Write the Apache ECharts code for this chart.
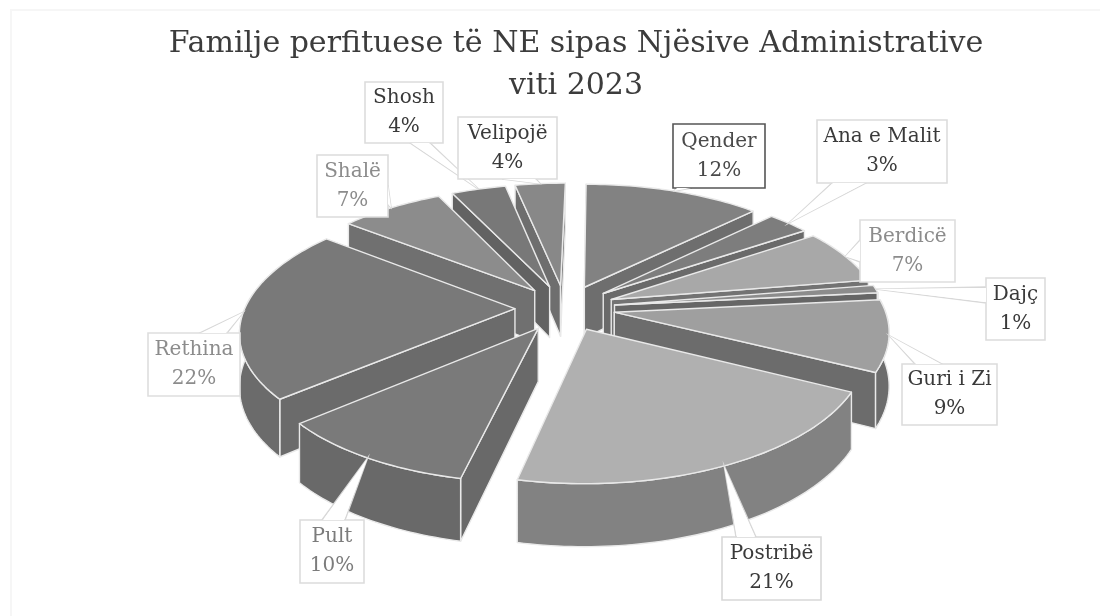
<!DOCTYPE html>
<html><head><meta charset="utf-8">
<style>html,body{margin:0;padding:0;background:#fff}#c{width:1114px;height:616px}</style>
<script src="https://cdn.jsdelivr.net/npm/echarts@6/dist/echarts.min.js"></script>
</head><body><div id="c"></div>
<script>
const titleLines = ['Familje perfituese të NE sipas Njësive Administrative', 'viti 2023'];
const names = ['Qender','Ana e Malit','Berdicë','Dajç','Guri i Zi','Postribë','Pult','Rethina','Shalë','Shosh','Velipojë'];
const values = [12.4,3,7,1,9,20.9,10.3,21.9,7.2,3.8,3.5];

const topColors  = ['#828282','#7d7d7d','#a8a8a8','#8c8c8c','#9f9f9f','#b0b0b0','#7a7a7a','#797979','#8c8c8c','#787878','#888888'];
const wallColors = ['#6e6e6e','#6a6a6a','#737373','#666666','#6c6c6c','#828282','#696969','#6b6b6b','#707070','#626262','#6e6e6e'];
const textColors = ['#4a4a4a','#3a3a3a','#8c8c8c','#3a3a3a','#3a3a3a','#3a3a3a','#7c7c7c','#8c8c8c','#8c8c8c','#3a3a3a','#3a3a3a'];
const boxBorders = ['#555555','#dcdcdc','#dedede','#dcdcdc','#dcdcdc','#d8d8d8','#dcdcdc','#dedede','#dcdcdc','#dcdcdc','#dcdcdc'];
// label boxes: left, top, right, bottom (layout only)
const labelBoxes = [[673,124,765,188],[817,120,947,183],[860,220,955,282],[986,278,1045,340],[902,364,997,425],
  [722,537,821,600],[300,520,364,583],[148,333,240,396],[317,155,388,217],[365,82,443,143],[458,117,557,179]];
// edge of the box the callout leaves from, as two points along that edge
const calloutBases = [[[676,188],[692,188]],[[832,183],[866,183]],[[860,240],[860,262]],[[986,287],[986,303]],[[915,364],[942,364]],
  [[736,537],[756,537]],[[322,520],[345,520]],[[200,333],[227,333]],[[388,185],[388,205]],[[410,143],[430,143]],[[502,179],[536,179]]];

const geo = {cx:565, cy:308, R:270, squash:0.46, persp:0.15, explode:50, depth:52, shear:0.04};
const total = values.reduce((a,b)=>a+b,0);
const starts = []; values.reduce((acc,v,i)=>{starts[i]=acc;return acc+v;},0);
const rad = v => v/total*Math.PI*2;

function proj(x,y,z){ const k = 1/(1+geo.persp*y/geo.R), sy = y*geo.squash*k;
  return [geo.cx + x*k + geo.shear*sy, geo.cy - sy + z*k]; }
function wedge(i){ const a0=rad(starts[i]), a1=rad(starts[i]+values[i]), m=(a0+a1)/2;
  return {a0,a1,m,ex:geo.explode*Math.sin(m),ey:geo.explode*Math.cos(m)}; }
function rimPt(w,a,z){ return proj(w.ex+geo.R*Math.sin(a), w.ey+geo.R*Math.cos(a), z); }

function renderSlice(params, api){
  const i = api.value(1), w = wedge(i), n = Math.max(6,Math.ceil(values[i]*3));
  const line = {stroke:'#e9e9e9', lineWidth:1.4, lineJoin:'round'};
  const kids = [];
  const apexT = proj(w.ex,w.ey,0), apexB = proj(w.ex,w.ey,geo.depth);
  if (Math.sin(w.a0) < 0.02) kids.push({type:'polygon',shape:{points:[apexT,rimPt(w,w.a0,0),rimPt(w,w.a0,geo.depth),apexB]},
    style:{fill:wallColors[i],...line}});
  if (Math.sin(w.a1) > -0.02) kids.push({type:'polygon',shape:{points:[apexT,rimPt(w,w.a1,0),rimPt(w,w.a1,geo.depth),apexB]},
    style:{fill:wallColors[i],...line}});
  const arc = []; for(let s=0;s<=n;s++) arc.push(w.a0+(w.a1-w.a0)*s/n);
  const vis = arc.filter(a=>Math.cos(a)<0.12);
  if (vis.length>1){
    const pts = vis.map(a=>rimPt(w,a,0)).concat(vis.slice().reverse().map(a=>rimPt(w,a,geo.depth)));
    kids.push({type:'polygon',shape:{points:pts},style:{fill:wallColors[i],...line}});
  }
  kids.push({type:'polygon',shape:{points:[apexT].concat(arc.map(a=>rimPt(w,a,0)))},style:{fill:topColors[i],...line}});
  return {type:'group',children:kids};
}
function renderLabel(params, api){
  const i = api.value(1), w = wedge(i), b = labelBoxes[i], base = calloutBases[i];
  const tip = rimPt(w,w.m,0);
  const horiz = base[0][1]===base[1][1];
  return {type:'group',children:[
    {type:'polygon',shape:{points:[base[0],tip,base[1]]},style:{fill:'#fff',stroke:'#d8d8d8',lineWidth:1.4}},
    {type:'rect',shape:{x:b[0],y:b[1],width:b[2]-b[0],height:b[3]-b[1]},style:{fill:'#fff',stroke:boxBorders[i],lineWidth:1.6}},
    {type:'polygon',shape:{points:[[base[0][0]+(horiz?1:0),base[0][1]+(horiz?0:1)],tip,[base[1][0]-(horiz?1:0),base[1][1]-(horiz?0:1)]]},style:{fill:'#fff'}},
    {type:'text',style:{x:(b[0]+b[2])/2,y:(b[1]+b[3])/2,text:names[i]+'\n'+Math.round(api.value(0))+'%',align:'center',verticalAlign:'middle',
      fill:textColors[i],lineHeight:29,fontSize:20,fontFamily:'DejaVu Serif'}}
  ]};
}
const order = values.map((v,i)=>i).sort((p,q)=>Math.cos(wedge(p).m)<Math.cos(wedge(q).m)?1:-1);
const chart = echarts.init(document.getElementById('c'),null,{renderer:'canvas'});
chart.setOption({
  animation:false, backgroundColor:'#ffffff',
  title:{text:titleLines.join('\n'),left:571,top:18,textAlign:'center',
    textStyle:{fontFamily:'DejaVu Serif',fontWeight:'normal',fontSize:30,lineHeight:42,color:'#3c3c3c'}},
  graphic:[{type:'polyline',silent:true,shape:{points:[[11,616],[11,10],[1100,10]]},style:{fill:null,stroke:'#f6f6f6',lineWidth:2}}],
  series:[
    {type:'custom',coordinateSystem:'none',z:2,silent:true,renderItem:renderSlice,
      data:order.map(i=>({name:names[i],value:[values[i],i]}))},
    {type:'custom',coordinateSystem:'none',z:3,silent:true,renderItem:renderLabel,
      data:names.map((n,i)=>({name:n,value:[values[i],i]}))}
  ]
});
</script></body></html>
